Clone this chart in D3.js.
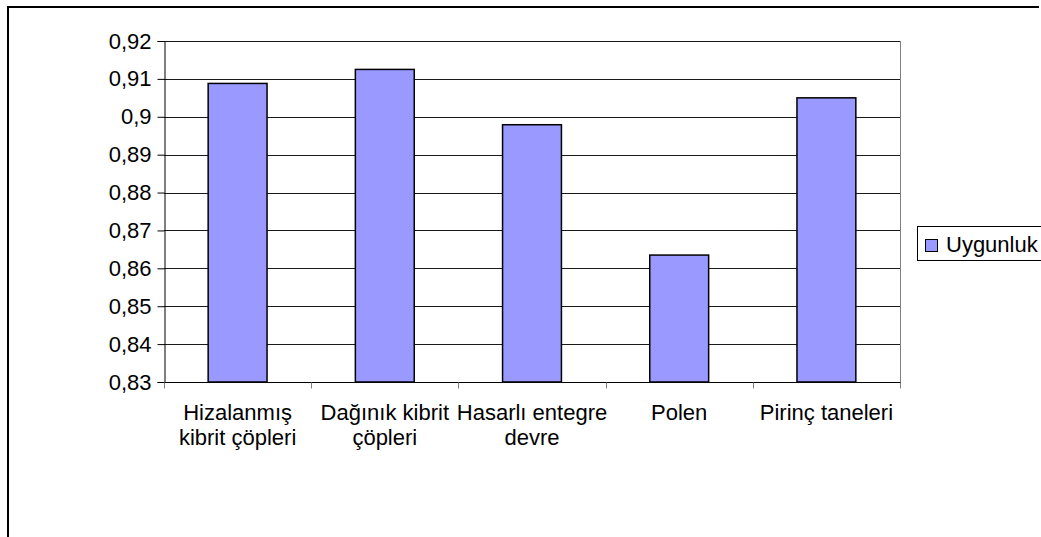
<!DOCTYPE html>
<html>
<head>
<meta charset="utf-8">
<script src="https://cdn.jsdelivr.net/npm/d3@7"></script>
<style>
  html, body { margin: 0; padding: 0; background: #fff; }
  svg { display: block; }
  text { font-family: "Liberation Sans", Arial, sans-serif; fill: #000; }
</style>
</head>
<body>
<svg id="chart" width="1041" height="537"></svg>
<script>
// Category labels (two lines where the label wraps)
const categories = [
  ["Hizalanmış", "kibrit çöpleri"],
  ["Dağınık kibrit", "çöpleri"],
  ["Hasarlı entegre", "devre"],
  ["Polen"],
  ["Pirinç taneleri"]
];
const seriesName = "Uygunluk";
const values = [0.9088, 0.9125, 0.8979, 0.8635, 0.9050];
const yTicks = [0.83, 0.84, 0.85, 0.86, 0.87, 0.88, 0.89, 0.90, 0.91, 0.92];

const svg = d3.select("#chart");
const W = 1041, H = 537;
const plot = { left: 164, top: 41, right: 900, bottom: 382 };
const fmt = v => d3.format(".2~f")(v).replace(".", ",");
const fontSize = 22;

// Outer chart frame (right and bottom edges fall outside the window)
svg.append("path")
  .attr("d", `M8,${H + 5}V7H1039`)
  .attr("fill", "none").attr("stroke", "#000").attr("stroke-width", 2);

const x = d3.scaleBand()
  .domain(d3.range(categories.length))
  .range([plot.left, plot.right])
  .paddingInner(0.6).paddingOuter(0.3);
const xOuter = d3.scaleBand()
  .domain(d3.range(categories.length))
  .range([plot.left, plot.right]);
const y = d3.scaleLinear().domain([0.83, 0.92]).range([plot.bottom, plot.top]);

// Plot area border (right side, gray)
svg.append("line")
  .attr("x1", plot.right + 0.5).attr("x2", plot.right + 0.5)
  .attr("y1", plot.top).attr("y2", plot.bottom)
  .attr("stroke", "#808080").attr("stroke-width", 1);

// Horizontal gridlines
svg.append("g").selectAll("line").data(yTicks.slice(1)).join("line")
  .attr("x1", plot.left).attr("x2", plot.right)
  .attr("y1", d => Math.round(y(d)) + 0.5).attr("y2", d => Math.round(y(d)) + 0.5)
  .attr("stroke", "#1a1a1a").attr("stroke-width", 1);

// Bars
svg.append("g").selectAll("rect").data(values).join("rect")
  .attr("x", (d, i) => x(i))
  .attr("y", d => y(d))
  .attr("width", x.bandwidth())
  .attr("height", d => y(0.83) - y(d))
  .attr("fill", "#9999FF")
  .attr("stroke", "#000").attr("stroke-width", 1.5);

// Y axis
const yAxis = d3.axisLeft(y).tickValues(yTicks).tickSize(7).tickPadding(6).tickFormat(fmt);
const gy = svg.append("g").attr("transform", `translate(${plot.left + 0.5},0)`).call(yAxis);
gy.select(".domain").attr("stroke", "#000");
gy.selectAll(".tick line").attr("stroke", "#000");
gy.selectAll(".tick text").attr("font-size", fontSize)
  .attr("font-family", "Liberation Sans, Arial, sans-serif").attr("fill", "#000");

// X axis line + category separators
const gx = svg.append("g").attr("transform", `translate(0,${plot.bottom + 0.5})`);
gx.append("line").attr("x1", plot.left).attr("x2", plot.right + 1)
  .attr("stroke", "#000").attr("stroke-width", 1);
const seps = d3.range(categories.length + 1).map(i =>
  i < categories.length ? xOuter(i) : plot.right);
gx.selectAll("line.sep").data(seps).join("line").attr("class", "sep")
  .attr("x1", d => Math.round(d) + 0.5).attr("x2", d => Math.round(d) + 0.5)
  .attr("y1", 0).attr("y2", 6)
  .attr("stroke", "#808080").attr("stroke-width", 1);

// Category labels
const labels = svg.append("g").selectAll("text").data(categories).join("text")
  .attr("text-anchor", "middle")
  .attr("font-size", fontSize)
  .attr("transform", (d, i) => `translate(${xOuter(i) + xOuter.bandwidth() / 2},420)`);
labels.selectAll("tspan").data(d => d).join("tspan")
  .attr("x", 0).attr("y", (d, j) => j * 25)
  .text(d => d);

// Legend
const lg = svg.append("g");
lg.append("rect").attr("x", 917.5).attr("y", 226.5).attr("width", 140).attr("height", 34)
  .attr("fill", "#fff").attr("stroke", "#000").attr("stroke-width", 1);
lg.append("rect").attr("x", 925.5).attr("y", 239.5).attr("width", 12).attr("height", 12)
  .attr("fill", "#9999FF").attr("stroke", "#000").attr("stroke-width", 1);
lg.append("text").attr("x", 946).attr("y", 252).attr("font-size", fontSize).text(seriesName);
</script>
</body>
</html>
